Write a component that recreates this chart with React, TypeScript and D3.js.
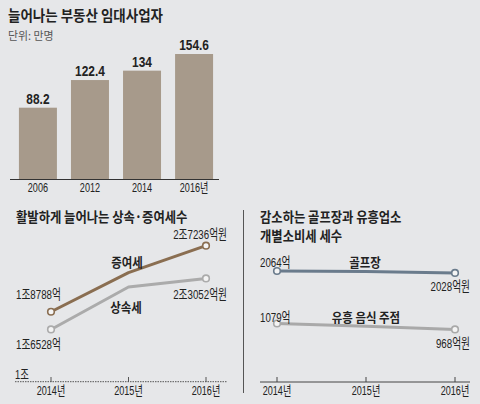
import React from 'react';
import * as d3 from 'd3';

// ---- data ----
const barCategories = ['2006', '2012', '2014', '2016년'];
const barValues = [88.2, 122.4, 134, 154.6];

const taxYears = ['2014년', '2015년', '2016년'];
const giftTax = [18788, 23800, 27236]; // 증여세 (억원)
const inheritTax = [16528, 21950, 23052]; // 상속세 (억원)

const golfTax = [2064, 2055, 2028]; // 골프장 (억원)
const barTax = [1079, 1025, 968]; // 유흥 음식 주점 (억원)

const W = 480;
const H = 404;
const BG = '#e6e7e9';
const NUM = "'Liberation Sans', 'Noto Sans CJK KR', sans-serif";
const KR = "'Noto Sans CJK KR', 'Noto Sans', sans-serif";

function fmt(v: number, suffix = '') {
  const jo = Math.floor(v / 10000);
  const rest = v % 10000;
  return (jo > 0 ? `${jo}조${rest}억` : `${v}억`) + suffix;
}

function T(props: {
  x: number; y: number; s?: number; anchor?: string; size: number;
  weight?: string | number; fill?: string; family?: string; ls?: number; children: any;
}) {
  const { x, y, s = 1, anchor = 'start', size, weight = 'normal', fill = '#222', family = NUM, ls = 0, children } = props;
  return (
    <text
      transform={`translate(${x},${y}) scale(${s},1)`}
      textAnchor={anchor as any}
      fontSize={size}
      fontWeight={weight as any}
      fill={fill}
      fontFamily={family}
      letterSpacing={ls}
    >
      {children}
    </text>
  );
}

export default function App() {
  // ---- bar chart ----
  const xb = d3.scaleBand<string>().domain(barCategories).range([11.9, 220.1]).paddingInner(0.27).paddingOuter(0.135);
  const yb = d3.scaleLinear().domain([0, 160]).range([179, 179 - 160 * 0.8085]);

  // ---- left line chart ----
  const xl = d3.scalePoint<string>().domain(taxYears).range([51, 206]);
  const yl = d3.scaleLinear().domain([10000, 27236]).range([380.5, 245.7]);
  const lineL = d3.line<number>().x((_, i) => xl(taxYears[i])!).y((d) => yl(d));

  // ---- right line chart ----
  const xr = d3.scalePoint<string>().domain(taxYears).range([277, 455]);
  const yr = d3.scaleLinear().domain([0, 2064]).range([381, 271]);
  const lineR = d3.line<number>().x((_, i) => xr(taxYears[i])!).y((d) => yr(d));

  const GIFT = '#8a6e51';
  const INH = '#ababab';
  const GOLF = '#6a7b8c';
  const BARC = '#a9a9a9';
  const last = taxYears.length - 1;

  const series = (vals: number[], color: string, xs: any, ys: any, line: any, key: string) => (
    <g key={key}>
      <path d={line(vals)!} fill="none" stroke={color} strokeWidth={3} strokeLinejoin="round" />
      {[0, last].map((i) => (
        <circle key={i} cx={xs(taxYears[i])} cy={ys(vals[i])} r={3.3} fill="#f4f4f4" stroke={color} strokeWidth={1.6} />
      ))}
    </g>
  );

  return (
    <div style={{ position: 'absolute', left: 0, top: 0 }}>
      <svg width={W} height={H} style={{ display: 'block' }}>
        <rect width={W} height={H} fill={BG} />

        {/* ===== Bar chart ===== */}
        <T x={8} y={20.5} size={15} weight="bold" family={KR} s={0.9}>늘어나는 부동산 임대사업자</T>
        <T x={8} y={39.5} size={11.5} family={KR} fill="#555" s={0.95}>단위: 만명</T>
        {barValues.map((v, i) => {
          const c = barCategories[i];
          const x = xb(c)!;
          const bw = xb.bandwidth();
          return (
            <g key={c}>
              <rect x={x} y={yb(v)} width={bw} height={yb(0) - yb(v)} fill="#a79a8b" />
              <T x={x + bw / 2} y={yb(v) - 4} anchor="middle" size={14} weight="bold" s={0.85}>{String(v)}</T>
              <T x={x + bw / 2} y={191.5} anchor="middle" size={13} s={0.7}>{c}</T>
            </g>
          );
        })}
        <line x1={10} x2={219} y1={yb(0) + 0.5} y2={yb(0) + 0.5} stroke="#333" strokeWidth={1} />

        {/* ===== Left line chart ===== */}
        <T x={16} y={222} size={14} weight="bold" family={KR} s={0.88}>활발하게 늘어나는 상속·증여세수</T>
        <line x1={15} x2={227} y1={381.7} y2={381.7} stroke="#555" strokeWidth={1} strokeDasharray="1.5,1" />
        {taxYears.map((t) => (
          <g key={t}>
            <line x1={xl(t)} x2={xl(t)} y1={377} y2={382} stroke="#555" strokeWidth={1} />
            <T x={xl(t)!} y={395} anchor="middle" size={13} s={0.7}>{t}</T>
          </g>
        ))}
        <T x={15} y={379} size={13} s={0.72}>1조</T>
        {series(inheritTax, INH, xl, yl, lineL, 'inh')}
        {series(giftTax, GIFT, xl, yl, lineL, 'gift')}
        <T x={16} y={yl(giftTax[0]) - 13} size={13.5} s={0.72}>{fmt(giftTax[0])}</T>
        <T x={16} y={yl(inheritTax[0]) + 20} size={13.5} s={0.72}>{fmt(inheritTax[0])}</T>
        <T x={227} y={yl(giftTax[last]) - 7} anchor="end" size={13.5} s={0.72}>{fmt(giftTax[last], '원')}</T>
        <T x={227} y={yl(inheritTax[last]) + 21} anchor="end" size={13.5} s={0.72}>{fmt(inheritTax[last], '원')}</T>
        <T x={127} y={yl(giftTax[1]) - 6} anchor="middle" size={13} weight="bold" family={KR} s={0.88}>증여세</T>
        <T x={126} y={yl(inheritTax[1]) + 25} anchor="middle" size={13} weight="bold" family={KR} s={0.88}>상속세</T>

        {/* ===== Separator ===== */}
        <line x1={243.5} x2={243.5} y1={210} y2={393} stroke="#555" strokeWidth={1} />

        {/* ===== Right line chart ===== */}
        <T x={260} y={222} size={14} weight="bold" family={KR} s={0.88}>감소하는 골프장과 유흥업소</T>
        <T x={260} y={241} size={14} weight="bold" family={KR} s={0.88}>개별소비세 세수</T>
        <line x1={260} x2={470} y1={382} y2={382} stroke="#444" strokeWidth={1} />
        {taxYears.map((t) => (
          <g key={t}>
            <line x1={xr(t)} x2={xr(t)} y1={377} y2={382} stroke="#444" strokeWidth={1} />
            <T x={xr(t)!} y={395} anchor="middle" size={13} s={0.7}>{t}</T>
          </g>
        ))}
        {series(golfTax, GOLF, xr, yr, lineR, 'golf')}
        {series(barTax, BARC, xr, yr, lineR, 'bar')}
        <T x={260} y={yr(golfTax[0]) - 4} size={13.5} s={0.72}>{fmt(golfTax[0])}</T>
        <T x={470} y={yr(golfTax[last]) + 18} anchor="end" size={13.5} s={0.72}>{fmt(golfTax[last], '원')}</T>
        <T x={260} y={yr(barTax[0]) - 1.5} size={13.5} s={0.72}>{fmt(barTax[0])}</T>
        <T x={470} y={yr(barTax[last]) + 19} anchor="end" size={13.5} s={0.72}>{fmt(barTax[last], '원')}</T>
        <T x={365} y={267} anchor="middle" size={13} weight="bold" family={KR} s={0.88}>골프장</T>
        <T x={366} y={321.5} anchor="middle" size={13} weight="bold" family={KR} s={0.88}>유흥 음식 주점</T>
      </svg>
    </div>
  );
}
